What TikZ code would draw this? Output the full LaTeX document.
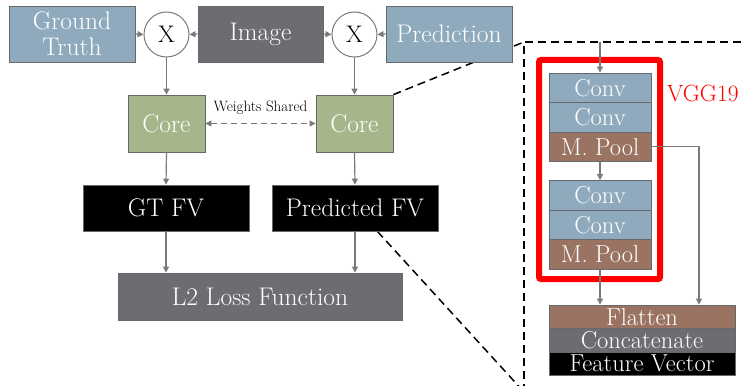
\documentclass[tikz,border=0pt]{standalone}
\usepackage{fontspec}
\usetikzlibrary{arrows.meta,backgrounds}
\definecolor{cblue}{RGB}{143,170,188}
\definecolor{cdark}{RGB}{109,108,113}
\definecolor{cgreen}{RGB}{166,182,138}
\definecolor{cbrown}{RGB}{155,115,98}
\definecolor{cline}{RGB}{122,122,122}
\definecolor{cborder}{RGB}{100,105,110}
\definecolor{cred}{RGB}{255,0,0}
\begin{document}
\begin{tikzpicture}[x=1pt,y=-1pt,
  box/.style={draw=cborder, line width=0.8pt, text=white, inner sep=0pt, align=center,
    font=\fontsize{25.5}{26}\selectfont},
  vbox/.style={box, minimum width=102pt, minimum height=29.5pt, font=\fontsize{24.5}{26}\selectfont},
  fbox/.style={box, minimum width=186pt, minimum height=23.5pt, font=\fontsize{24.5}{26}\selectfont},
  mult/.style={circle, draw=cline, line width=1pt, fill=white, minimum size=45pt, inner sep=0pt,
    font=\fontsize{24}{24}\selectfont},
  arr/.style={draw=cline, line width=1.2pt, -{Triangle[length=6pt,width=6pt]}},
  zoomline/.style={draw=black, line width=1.5pt, dash pattern=on 8pt off 5pt}
]
\useasboundingbox (0,0) rectangle (743,385);

% top row
\node[box, fill=cblue, minimum width=126pt, minimum height=56pt] (gt) at (72,34) {Ground\\Truth};
\node[mult] (x1) at (166.5,34.5) {X};
\node[box, fill=cdark, minimum width=125pt, minimum height=56pt] (img) at (260.5,34) {Image};
\node[mult] (x2) at (354.5,34.5) {X};
\node[box, fill=cblue, minimum width=126pt, minimum height=56pt] (pred) at (449,34) {Prediction};

% cores
\node[box, fill=cgreen, minimum width=77pt, minimum height=57pt] (core1) at (166.5,123.5) {Core};
\node[box, fill=cgreen, minimum width=77pt, minimum height=57pt] (core2) at (354.5,123.5) {Core};

% feature vectors
\node[box, fill=black, minimum width=166pt, minimum height=46pt] (gtfv) at (166,208) {GT FV};
\node[box, fill=black, minimum width=166pt, minimum height=46pt] (pfv) at (355,208) {Predicted FV};
\node[box, fill=cdark, minimum width=284pt, minimum height=47pt] (l2) at (260,296.5) {L2 Loss Function};

% connectors
\draw[arr] (gt.east) -- (x1.west);
\draw[arr] (img.west) -- (x1.east);
\draw[arr] (img.east) -- (x2.west);
\draw[arr] (pred.west) -- (x2.east);
\draw[arr] (x1.south) -- (core1.north);
\draw[arr] (x2.south) -- (core2.north);
\draw[arr] (core1.south) -- (gtfv.north);
\draw[arr] (core2.south) -- (pfv.north);
\draw[arr] (gtfv.south) -- (gtfv.south |- l2.north);
\draw[arr] (pfv.south) -- (pfv.south |- l2.north);
\draw[draw=cline, line width=1.2pt, dash pattern=on 6pt off 4pt,
  {Triangle[length=6pt,width=6pt]}-{Triangle[length=6pt,width=6pt]}]
  (core1.east) -- node[above=5pt, text=black, font=\fontsize{15}{16}\selectfont] (ws) {Weights Shared} (core2.west);

% zoom frame
\coordinate (ztl) at (524,42);
\coordinate (zbl) at (524,392);
\coordinate (zbr) at (760,392);
\coordinate (ztr) at (760,42);
\begin{scope}[on background layer]
\draw[zoomline] (core2.north east) -- (ztl);
\draw[zoomline] ([xshift=-61pt]pfv.south east) -- (zbl);
\draw[zoomline] (zbl) -- (ztl) -- (ztr);
\end{scope}

% VGG part
\draw[draw=cred, line width=6pt, rounded corners=2pt] (539,60) rectangle (660,279);
\node[anchor=base west, text=cred, font=\fontsize{23.5}{26}\selectfont, inner sep=0pt] (vgg) at (667,102) {VGG19};

\node[vbox, fill=cblue] (c1) at (600,87.75) {Conv};
\node[vbox, fill=cblue] (c2) at (600,117.25) {Conv};
\node[vbox, fill=cbrown] (m1) at (600,146.75) {M. Pool};
\node[vbox, fill=cblue] (c3) at (600,195.25) {Conv};
\node[vbox, fill=cblue] (c4) at (600,224.75) {Conv};
\node[vbox, fill=cbrown] (m2) at (600,254.25) {M. Pool};

\node[fbox, fill=cbrown] (fl) at (642,316.75) {Flatten};
\node[fbox, fill=cdark] (cc) at (642,340.25) {Concatenate};
\node[fbox, fill=black] (fv) at (642,363.75) {Feature Vector};

\coordinate (vin) at (600,42);
\coordinate (side) at (699,146.75);
\draw[arr] (vin) -- (c1.north);
\draw[arr] (m1.south) -- (c3.north);
\draw[arr] (m2.south) -- (m2.south |- fl.north);
\draw[arr] (m1.east) -- (side) -- (side |- fl.north);
\end{tikzpicture}
\end{document}
